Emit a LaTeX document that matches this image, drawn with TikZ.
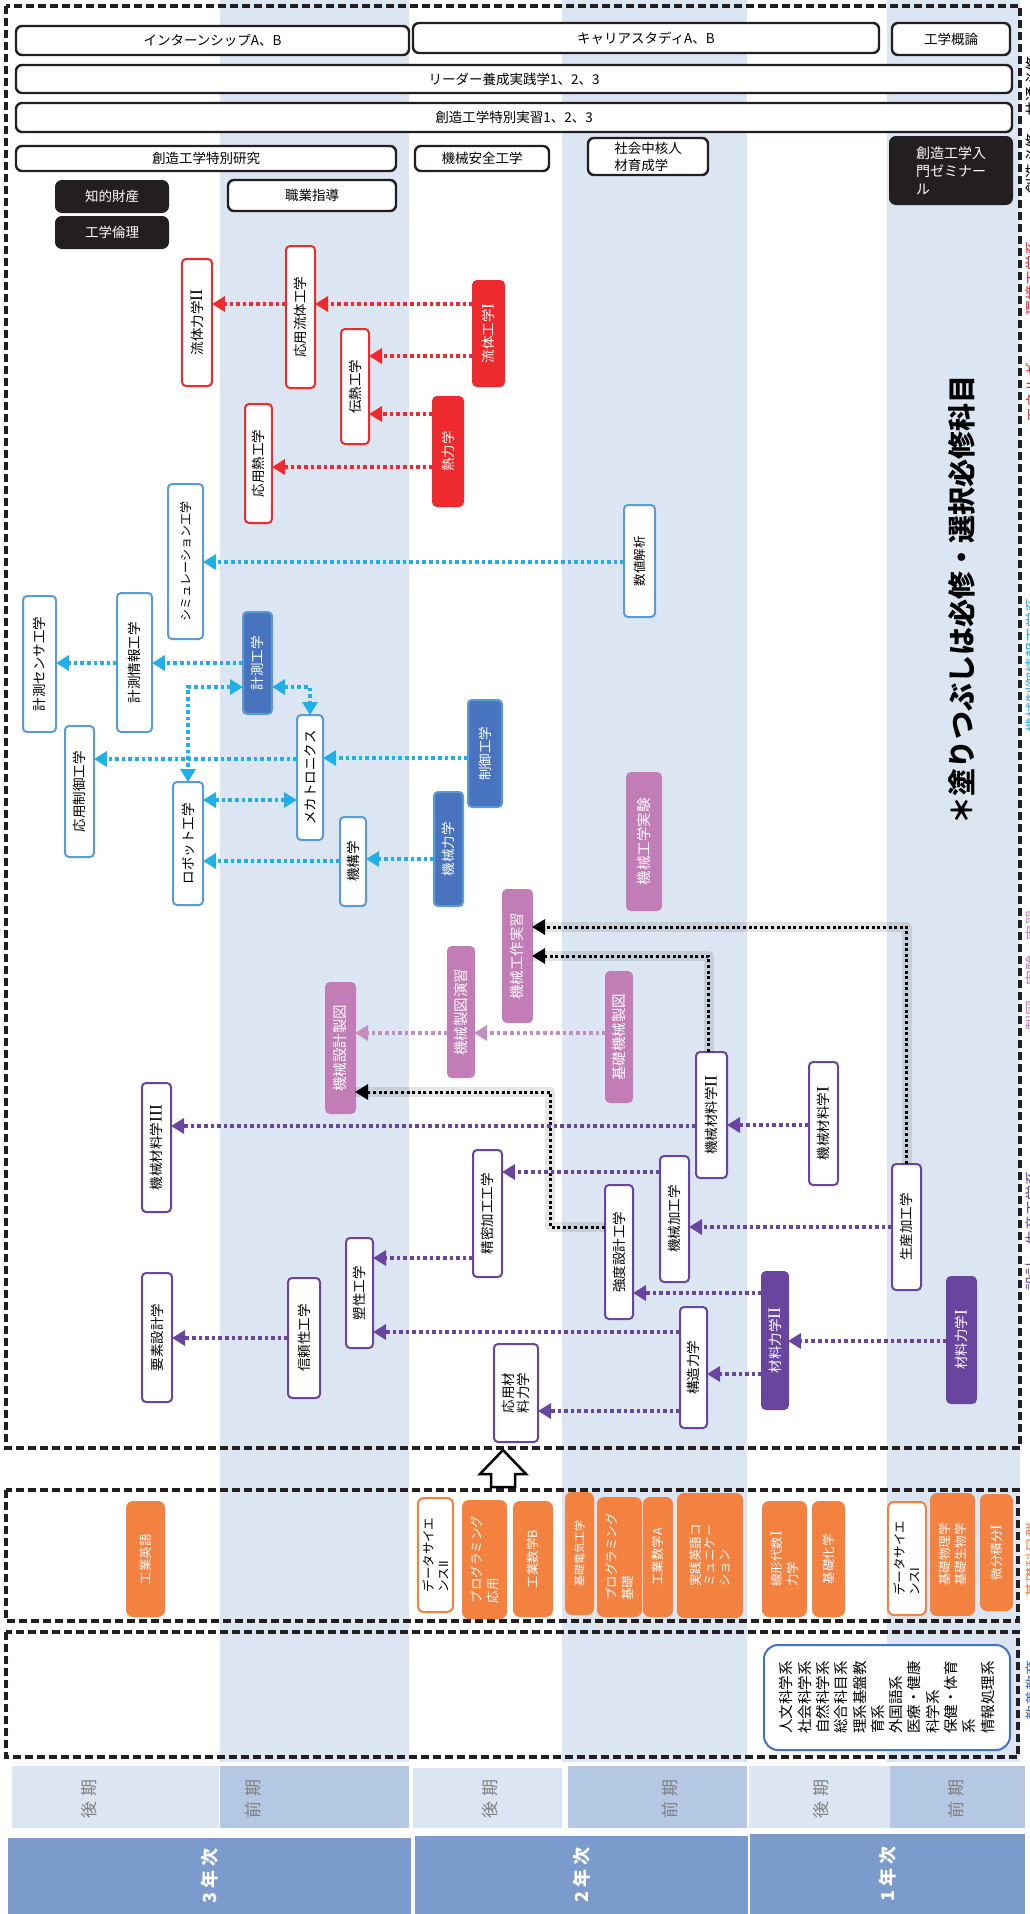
\documentclass[tikz,border=0pt]{standalone}
\usepackage{fontspec}
\setmainfont{Noto Sans CJK JP}
\newfontfamily\rmnum[Scale=1.3]{Liberation Serif}
\newcommand\RI{{\rmnum I}}
\newcommand\RII{{\rmnum II}}
\newcommand\RIII{{\rmnum III}}
\usetikzlibrary{arrows.meta}
\definecolor{band}{HTML}{DCE6F2}
\definecolor{perL}{HTML}{DCE6F2}
\definecolor{perD}{HTML}{B4C7E3}
\definecolor{yr}{HTML}{7B9BCC}
\definecolor{cred}{HTML}{EE2A2F}
\definecolor{cblueo}{HTML}{5B9BD5}
\definecolor{cbluef}{HTML}{4874BF}
\definecolor{ccyan}{HTML}{1EB0E6}
\definecolor{cpink}{HTML}{C27CB6}
\definecolor{cpinka}{HTML}{C68DC2}
\definecolor{cpurple}{HTML}{6A45A0}
\definecolor{corange}{HTML}{F38140}
\definecolor{cblack}{HTML}{231F20}
\definecolor{libblue}{HTML}{4472C4}
\definecolor{pertext}{HTML}{808080}
\newcommand\fsz[2]{\fontsize{#1}{#2}\selectfont}
\newcommand\bx[8]{%
  \node[#1, minimum width={(#6-#4)*1pt}, minimum height={(#7-#5)*1pt}] (#3) at ({(#4+#6)/2},{(#5+#7)/2}) {};
  \node[#2] (#3-t) at (#3.center) {#8};}
\newcommand\ha[4]{\draw[#1] (#2.west |- 0,#4) -- (#3.east |- 0,#4);}
\tikzset{
  cbox/.style={draw, line width=2pt, rounded corners=4pt, inner sep=0pt, outer sep=0pt, fill=white},
  redo/.style={cbox, draw=cred},
  redf/.style={cbox, draw=cred, fill=cred},
  blueo/.style={cbox, draw=cblueo},
  bluef/.style={cbox, draw=cblueo, fill=cbluef},
  pinkf/.style={cbox, draw=cpink, fill=cpink},
  purpo/.style={cbox, draw=cpurple},
  purpf/.style={cbox, draw=cpurple, fill=cpurple},
  orf/.style={cbox, draw=corange, fill=corange, rounded corners=6pt},
  oro/.style={cbox, draw=corange, fill=white, rounded corners=6pt},
  topb/.style={cbox, draw=cblack, line width=2.4pt, rounded corners=6pt},
  blkb/.style={cbox, draw=cblack, fill=cblack, rounded corners=6pt},
  perl/.style={fill=perL, inner sep=0pt, outer sep=0pt},
  perd/.style={fill=perD, inner sep=0pt, outer sep=0pt},
  yrb/.style={fill=yr, inner sep=0pt, outer sep=0pt},
  vt/.style={rotate=90, inner sep=0pt, align=left, font=\fsz{13.5}{16}},
  vtw/.style={vt, text=white},
  vtp/.style={vtw, font=\fsz{14.5}{17}},
  vto/.style={vtw, font=\fsz{12.5}{16}},
  ht/.style={inner sep=0pt, align=left, font=\fsz{13.5}{17}},
  htw/.style={ht, text=white},
  pert/.style={rotate=90, text=pertext, font=\fsz{17}{20}},
  yrt/.style={rotate=90, text=white, font=\fsz{18}{20}\bfseries},
  dotline/.style={line width=3.6pt, dash pattern=on 3.6pt off 3pt},
  arrtip/.style={-{Triangle[length=13pt,width=15pt]}},
  arrboth/.style={{Triangle[length=13pt,width=15pt]}-{Triangle[length=13pt,width=15pt]}},
  ra/.style={dotline, arrtip, color=cred},
  ca/.style={dotline, arrtip, color=ccyan},
  pa/.style={dotline, arrtip, color=cpinka},
  ua/.style={dotline, arrtip, color=cpurple},
  ka/.style={line width=3pt, dash pattern=on 3pt off 2.6pt, color=black, arrtip},
  blkshadow/.style={line width=10pt, color=black, opacity=0.10, line join=round},
  dbox/.style={draw=cblack, line width=3.5pt, dash pattern=on 8pt off 4pt},
  edgelbl/.style={rotate=90, inner sep=0pt, font=\fsz{15}{17}},
}
\begin{document}
\begin{tikzpicture}[x=1pt,y=-1pt]
\useasboundingbox (0,0) rectangle (1030,1914);
\clip (0,0) rectangle (1030,1914);
\fill[white] (0,0) rectangle (1030,1914);
% column bands
\fill[band] (220,0) rectangle (409,1762);
\fill[band] (562,0) rectangle (747,1762);
\fill[band] (887,0) rectangle (1020,1762);
% dashed frames
\draw[dbox] (6,6) rectangle (1020,1448);
\draw[dbox] (6,1490) rectangle (1018,1621);
\draw[dbox] (6,1632) rectangle (1018,1757);
% up arrow
\draw[line width=2.5pt, fill=white, line join=miter] (503,1450) -- (526,1474) -- (515,1474) -- (515,1487) -- (491,1487) -- (491,1474) -- (480,1474) -- cycle;

% ---------- top horizontal rows
\bx{topb}{ht}{intern}{16}{26}{409}{55}{インターンシップA、B}
\bx{topb}{ht}{career}{413}{23}{879}{53}{キャリアスタディA、B}
\bx{topb}{ht}{gairon}{892}{23}{1010}{55}{工学概論}
\bx{topb}{ht}{leader}{16}{65}{1012}{93}{リーダー養成実践学1、2、3}
\bx{topb}{ht}{jisshu}{16}{103}{1012}{132}{創造工学特別実習1、2、3}
\bx{topb}{ht}{kenkyu}{16}{146}{396}{171}{創造工学特別研究}
\bx{topb}{ht}{anzen}{415}{146}{549}{171}{機械安全工学}
\bx{topb}{ht}{chukaku}{588}{138}{708}{175}{社会中核人\\材育成学}
\bx{blkb}{htw,font=\fsz{14}{18}}{seminar}{890}{137}{1012}{204}{創造工学入\\門ゼミナー\\ル}
\bx{blkb}{htw}{chiteki}{56}{181}{168}{212}{知的財産}
\bx{topb}{ht}{shokugyo}{228}{180}{396}{211}{職業指導}
\bx{blkb}{htw}{rinri}{56}{217}{168}{248}{工学倫理}

% ---------- red
\bx{redo}{vt}{ryutai2}{182}{259}{212}{386}{流体力学\RII}
\bx{redo}{vt}{oyoryutai}{286}{246}{315}{388}{応用流体工学}
\bx{redf}{vtw}{ryutai1}{473}{281}{504}{386}{流体工学\RI}
\bx{redo}{vt}{dennetsu}{341}{329}{369}{444}{伝熱工学}
\bx{redf}{vtw}{netsu}{433}{397}{463}{506}{熱力学}
\bx{redo}{vt}{oyonetsu}{245}{404}{272}{523}{応用熱工学}

% ---------- blue
\bx{blueo}{vt,font=\fsz{12}{14}}{sim}{168}{484}{203}{639}{シミュレーション工学}
\bx{blueo}{vt,font=\fsz{12.5}{14}}{suchi}{624}{505}{655}{617}{数値解析}
\bx{blueo}{vt}{sensor}{23}{596}{56}{732}{計測センサ工学}
\bx{blueo}{vt}{joho}{117}{593}{152}{732}{計測情報工学}
\bx{bluef}{vtw}{keisoku}{243}{612}{272}{714}{計測工学}
\bx{blueo}{vt}{appctrl}{65}{726}{94}{857}{応用制御工学}
\bx{blueo}{vt}{robot}{173}{782}{203}{905}{ロボット工学}
\bx{blueo}{vt}{mecha}{297}{715}{323}{840}{メカトロニクス}
\bx{blueo}{vt}{kikou}{340}{817}{366}{906}{機構学}
\bx{bluef}{vtw}{ctrl}{468}{700}{502}{807}{制御工学}
\bx{bluef}{vtw}{kikairiki}{434}{792}{463}{906}{機械力学}

% ---------- pink
\bx{pinkf}{vtp}{sekkei}{326}{983}{355}{1113}{機械設計製図}
\bx{pinkf}{vtp}{enshu}{448}{947}{474}{1077}{機械製図演習}
\bx{pinkf}{vtp}{kousaku}{503}{890}{532}{1022}{機械工作実習}
\bx{pinkf}{vtp}{jikken}{627}{773}{661}{910}{機械工学実験}
\bx{pinkf}{vtp}{kiso}{606}{972}{632}{1102}{基礎機械製図}

% ---------- purple
\bx{purpo}{vt}{zai3}{142}{1083}{171}{1212}{機械材料学\RIII}
\bx{purpo}{vt}{zai2}{696}{1052}{727}{1178}{機械材料学\RII}
\bx{purpo}{vt}{zai1}{809}{1062}{838}{1185}{機械材料学\RI}
\bx{purpo}{vt}{seimitsu}{473}{1150}{502}{1277}{精密加工工学}
\bx{purpo}{vt}{kakou}{660}{1156}{689}{1282}{機械加工学}
\bx{purpo}{vt}{kyodo}{605}{1185}{633}{1319}{強度設計工学}
\bx{purpo}{vt}{seisan}{892}{1164}{921}{1290}{生産加工学}
\bx{purpf}{vtw}{zairiki2}{762}{1272}{788}{1409}{材料力学\RII}
\bx{purpf}{vtw}{zairiki1}{947}{1277}{976}{1403}{材料力学\RI}
\bx{purpo}{vt}{kozo}{680}{1307}{707}{1428}{構造力学}
\bx{purpo}{vt,font=\fsz{13.5}{15}}{oyozai}{494}{1344}{538}{1442}{応用材\\料力学}
\bx{purpo}{vt}{sosei}{346}{1238}{373}{1348}{塑性工学}
\bx{purpo}{vt}{shinrai}{288}{1278}{320}{1398}{信頼性工学}
\bx{purpo}{vt}{yoso}{142}{1273}{172}{1402}{要素設計学}

% ---------- orange (foundation)
\bx{orf}{vto}{eigo}{127}{1502}{164}{1616}{工業英語}
\bx{oro}{vt,font=\fsz{12.5}{15}}{ds2}{418}{1498}{453}{1612}{データサイエ\\ンスII}
\bx{orf}{vto}{prog2}{463}{1501}{506}{1618}{プログラミング\\応用}
\bx{orf}{vto}{math2}{514}{1502}{552}{1616}{工業数学B}
\bx{orf}{vtw,font=\fsz{11}{13}}{denki}{566}{1493}{593}{1614}{基礎電気工学}
\bx{orf}{vto}{prog1}{598}{1498}{641}{1616}{プログラミング\\基礎}
\bx{orf}{vtw,font=\fsz{12.5}{14}}{math1}{644}{1498}{672}{1616}{工業数学A}
\bx{orf}{vtw,font=\fsz{12.5}{14.5}}{comm}{678}{1494}{742}{1617}{実践英語コ\\ミュニケー\\ション}
\bx{orf}{vto}{linalg}{763}{1502}{806}{1616}{線形代数\RI\\力学}
\bx{orf}{vto}{kagaku}{813}{1502}{844}{1616}{基礎化学}
\bx{oro}{vt,font=\fsz{12.5}{15}}{ds1}{888}{1502}{926}{1615}{データサイエ\\ンスI}
\bx{orf}{vto}{butsuri}{931}{1494}{974}{1615}{基礎物理学\\基礎生物学}
\bx{orf}{vto}{bibun}{981}{1495}{1012}{1610}{微分積分\RI}

% ---------- liberal arts
\bx{cbox,draw=libblue,rounded corners=14pt}{vt,font=\fsz{14.5}{18.3}}{kyoyo}{764}{1645}{1010}{1750}{人文科学系\\社会科学系\\自然科学系\\総合科目系\\理系基盤教\\育系\\外国語系\\医療・健康\\科学系\\保健・体育\\系\\情報処理系}

% ---------- note
\node[rotate=90, font=\fsz{28}{30}\bfseries, inner sep=0pt] (note) at (962,600) {＊塗りつぶしは必修・選択必修科目};

% ---------- periods and years
\bx{perl}{pert}{p1}{12}{1766}{219}{1828}{}
\bx{perd}{pert}{p2}{220}{1766}{409}{1828}{}
\bx{perl}{pert}{p3}{413}{1768}{562}{1828}{}
\bx{perd}{pert}{p4}{568}{1766}{747}{1828}{}
\bx{perl}{pert}{p5}{749}{1766}{890}{1828}{}
\bx{perd}{pert}{p6}{890}{1766}{1025}{1828}{}
\node[pert] (p1l) at (89,1799) {後\hspace{0.3em}期};
\node[pert] (p2l) at (253,1799) {前\hspace{0.3em}期};
\node[pert] (p3l) at (490,1799) {後\hspace{0.3em}期};
\node[pert] (p4l) at (670,1799) {前\hspace{0.3em}期};
\node[pert] (p5l) at (821,1799) {後\hspace{0.3em}期};
\node[pert] (p6l) at (956,1799) {前\hspace{0.3em}期};
\bx{yrb}{yrt}{y3}{8}{1838}{411}{1914}{3\hspace{0.2em}年\hspace{0.2em}次}
\bx{yrb}{yrt}{y2}{415}{1836}{748}{1914}{2\hspace{0.2em}年\hspace{0.2em}次}
\bx{yrb}{yrt}{y1}{750}{1834}{1025}{1914}{1\hspace{0.2em}年\hspace{0.2em}次}

% ---------- edge labels (clipped by the page edge, as in the reference)
\node[edgelbl, text=black] (e1) at (1033,86) {共通必修};
\node[edgelbl, text=black] (e2) at (1033,163) {創造必修};
\node[edgelbl, text=cred] (e3) at (1033,278) {環境工学系};
\node[edgelbl, text=cred] (e4) at (1033,385) {エネルギー};
\node[edgelbl, text=ccyan] (e5) at (1033,665) {機械制御情報工学系};
\node[edgelbl, text=cpink] (e6) at (1033,970) {製図　実験　実習};
\node[edgelbl, text=cpurple] (e7) at (1033,1230) {設計・生産工学系};
\node[edgelbl, text=corange] (e8) at (1033,1560) {基礎科目群};
\node[edgelbl, text=libblue] (e9) at (1033,1690) {教養教育};
\node[edgelbl, text=black] (w1) at (-6,932) {専};
\node[edgelbl, text=black] (w2) at (-6,1557) {基};
\node[edgelbl, text=black] (w3) at (-6,1700) {教};

% ---------- red arrows
\ha{ra}{ryutai1}{oyoryutai}{304}
\ha{ra}{oyoryutai}{ryutai2}{304}
\ha{ra}{ryutai1}{dennetsu}{356}
\ha{ra}{netsu}{dennetsu}{414}
\ha{ra}{netsu}{oyonetsu}{467}
% ---------- cyan arrows
\ha{ca}{suchi}{sim}{562}
\ha{ca}{keisoku}{joho}{663}
\ha{ca}{joho}{sensor}{663}
\draw[ca,arrboth] (keisoku.west |- 0,687) -| (robot.north);
\draw[ca,arrboth] (keisoku.east |- 0,687) -| (mecha.north);
\ha{ca}{mecha}{appctrl}{759}
\ha{ca}{ctrl}{mecha}{758}
\draw[ca,arrboth] (robot.east |- 0,800) -- (mecha.west |- 0,800);
\ha{ca}{kikou}{robot}{861}
\ha{ca}{kikairiki}{kikou}{859}
% ---------- pink arrows
\ha{pa}{kiso}{enshu}{1033}
\ha{pa}{enshu}{sekkei}{1033}
% ---------- black arrows
\draw[blkshadow] ([xshift=-3pt]zai2.north) |- (kousaku.east |- 0,956);
\draw[blkshadow] (seisan.north) |- (kousaku.east |- 0,927);
\draw[blkshadow] (kyodo.west |- 0,1227) -| (550,1092) -- (sekkei.east |- 0,1092);
\draw[ka] ([xshift=-3pt]zai2.north) |- (kousaku.east |- 0,956);
\draw[ka] (seisan.north) |- (kousaku.east |- 0,927);
\draw[ka] (kyodo.west |- 0,1227) -| (550,1092) -- (sekkei.east |- 0,1092);
% ---------- purple arrows
\ha{ua}{zai1}{zai2}{1125}
\ha{ua}{zai2}{zai3}{1126}
\ha{ua}{kakou}{seimitsu}{1172}
\ha{ua}{seisan}{kakou}{1227}
\ha{ua}{seimitsu}{sosei}{1258}
\ha{ua}{zairiki2}{kyodo}{1293}
\ha{ua}{kozo}{sosei}{1332}
\ha{ua}{zairiki1}{zairiki2}{1341}
\ha{ua}{shinrai}{yoso}{1338}
\ha{ua}{zairiki2}{kozo}{1374}
\ha{ua}{kozo}{oyozai}{1411}
\end{tikzpicture}
\end{document}
